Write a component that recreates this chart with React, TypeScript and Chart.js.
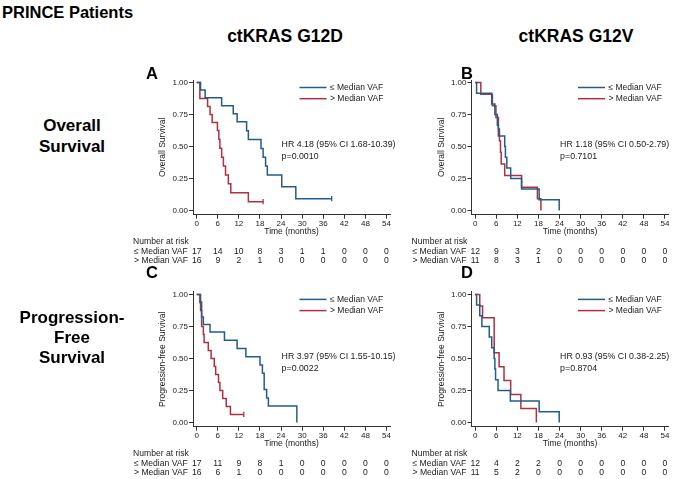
import React, { useEffect, useRef } from 'react';
import { Chart, registerables } from 'chart.js';

Chart.register(...registerables);

const FONT = "'Liberation Sans', Arial, Helvetica, sans-serif";
const BLUE = '#245b8d';
const RED = '#ae3141';
const INK = '#1a1a1a';
const AXIS = '#333333';

// ---------- shared labels / ticks ----------
const timeTicks = [0, 6, 12, 18, 24, 30, 36, 42, 48, 54];
const survivalTicks = [0, 0.25, 0.5, 0.75, 1];
const groupNames = ['≤ Median VAF', '> Median VAF'];

// ---------- Panel A: ctKRAS G12D, overall survival ----------
const osG12dLowTime = [0, 1.1, 2.4, 7.1, 10.4, 11.5, 14.2, 14.7, 18.3, 18.9, 19.6, 20.1, 24.2, 28.2, 38.4];
const osG12dLowSurv = [1, 0.941, 0.882, 0.819, 0.756, 0.693, 0.624, 0.554, 0.485, 0.416, 0.347, 0.277, 0.185, 0.092, 0.092];
const osG12dLowCensor = [38.4];
const osG12dHighTime = [0, 0.9, 3.1, 3.8, 4.4, 5.9, 6.3, 6.6, 7.1, 7.6, 8.2, 9.0, 9.7, 14.7, 18.9];
const osG12dHighSurv = [1, 0.875, 0.8125, 0.75, 0.6875, 0.625, 0.556, 0.486, 0.417, 0.347, 0.278, 0.208, 0.139, 0.069, 0.069];
const osG12dHighCensor = [18.9];
const osG12dRiskLow = [17, 14, 10, 8, 3, 1, 1, 0, 0, 0];
const osG12dRiskHigh = [16, 9, 2, 1, 0, 0, 0, 0, 0, 0];
const osG12dHr = 'HR 4.18 (95% CI 1.68-10.39)';
const osG12dP = 'p=0.0010';

// ---------- Panel B: ctKRAS G12V, overall survival ----------
const osG12vLowTime = [0, 0.4, 4.7, 5.6, 6.3, 6.6, 8.4, 8.6, 9.0, 10.1, 13.2, 18.2, 23.9];
const osG12vLowSurv = [1, 0.917, 0.833, 0.75, 0.667, 0.583, 0.5, 0.417, 0.333, 0.25, 0.167, 0.083, 0];
const osG12vLowCensor: number[] = [];
const osG12vHighTime = [0, 1.6, 4.9, 5.9, 6.6, 6.9, 7.2, 7.4, 8.4, 13.2, 17.7, 18.7];
const osG12vHighSurv = [1, 0.909, 0.818, 0.727, 0.636, 0.545, 0.455, 0.364, 0.273, 0.182, 0.091, 0];
const osG12vHighCensor: number[] = [];
const osG12vRiskLow = [12, 9, 3, 2, 0, 0, 0, 0, 0, 0];
const osG12vRiskHigh = [11, 8, 3, 1, 0, 0, 0, 0, 0, 0];
const osG12vHr = 'HR 1.18 (95% CI 0.50-2.79)';
const osG12vP = 'p=0.7101';

// ---------- Panel C: ctKRAS G12D, progression-free survival ----------
const pfsG12dLowTime = [0, 1.1, 1.4, 1.9, 3.8, 7.9, 11.5, 14.0, 18.0, 18.7, 19.2, 19.9, 20.4, 28.5];
const pfsG12dLowSurv = [1, 0.941, 0.824, 0.765, 0.706, 0.642, 0.578, 0.513, 0.449, 0.385, 0.257, 0.192, 0.128, 0];
const pfsG12dLowCensor: number[] = [];
const pfsG12dHighTime = [0, 0.9, 1.1, 1.4, 1.9, 2.1, 3.3, 4.1, 5.0, 5.4, 6.2, 6.6, 7.4, 8.4, 9.6, 13.4];
const pfsG12dHighSurv = [1, 0.9375, 0.875, 0.75, 0.6875, 0.625, 0.5625, 0.5, 0.4375, 0.375, 0.3125, 0.25, 0.1875, 0.125, 0.0625, 0.0625];
const pfsG12dHighCensor = [13.4];
const pfsG12dRiskLow = [17, 11, 9, 8, 1, 0, 0, 0, 0, 0];
const pfsG12dRiskHigh = [16, 6, 1, 0, 0, 0, 0, 0, 0, 0];
const pfsG12dHr = 'HR 3.97 (95% CI 1.55-10.15)';
const pfsG12dP = 'p=0.0022';

// ---------- Panel D: ctKRAS G12V, progression-free survival ----------
const pfsG12vLowTime = [0, 0.4, 1.3, 1.9, 4.0, 4.7, 5.4, 5.6, 5.8, 6.5, 10.0, 18.2, 23.9];
const pfsG12vLowSurv = [1, 0.917, 0.833, 0.75, 0.667, 0.583, 0.5, 0.417, 0.333, 0.25, 0.167, 0.083, 0];
const pfsG12vLowCensor: number[] = [];
const pfsG12vHighTime = [0, 1.3, 2.1, 5.4, 6.8, 8.2, 10.1, 13.0, 17.4];
const pfsG12vHighSurv = [1, 0.909, 0.818, 0.545, 0.436, 0.327, 0.218, 0.109, 0];
const pfsG12vHighCensor: number[] = [];
const pfsG12vRiskLow = [12, 4, 2, 2, 0, 0, 0, 0, 0, 0];
const pfsG12vRiskHigh = [11, 5, 2, 0, 0, 0, 0, 0, 0, 0];
const pfsG12vHr = 'HR 0.93 (95% CI 0.38-2.25)';
const pfsG12vP = 'p=0.8704';

// ---------- layout (positions only) ----------
type Geo = {
  left: number; top: number; w: number; h: number;
  cl: number; cr: number; ct: number; cb: number; yTitleX: number;
};

type Spec = {
  geo: Geo;
  yTitle: string;
  low: { time: number[]; surv: number[]; censor: number[] };
  high: { time: number[]; surv: number[]; censor: number[] };
  riskLow: number[];
  riskHigh: number[];
  hr: string;
  p: string;
};

const X_MIN = -1.05;
const X_MAX = 55;
const Y_MIN = -0.033;
const Y_MAX = 1.02;
const TITLE_SIZE = 8.5;
const TITLE_HALF = (TITLE_SIZE * 1.2) / 2;
const X_BOX_H = 17.3 + TITLE_HALF;

function survAt(time: number[], surv: number[], t: number) {
  let v = surv[0];
  for (let i = 0; i < time.length; i++) if (time[i] <= t) v = surv[i];
  return v;
}

function Panel({ spec }: { spec: Spec }) {
  const ref = useRef<HTMLCanvasElement | null>(null);
  const g = spec.geo;
  useEffect(() => {
    const canvas = ref.current;
    if (!canvas) return;
    const padLeft = g.yTitleX - g.left - TITLE_HALF;
    const yWidth = g.cl - g.left - padLeft;
    const padTop = g.ct - g.top;
    const padRight = g.left + g.w - g.cr;
    const padBottom = g.top + g.h - g.cb - X_BOX_H;

    const curveDs = (c: { time: number[]; surv: number[] }, color: string) => ({
      data: c.time.map((t, i) => ({ x: t, y: c.surv[i] })),
      borderColor: color,
      borderWidth: 1.5,
      stepped: 'before' as const,
      pointRadius: 0,
      fill: false,
      tension: 0,
    });
    const censorDs = (c: { time: number[]; surv: number[]; censor: number[] }, color: string) => ({
      data: c.censor.map((t) => ({ x: t, y: survAt(c.time, c.surv, t) })),
      showLine: false,
      pointStyle: 'line' as const,
      pointRadius: 2.6,
      pointRotation: 90,
      pointBorderColor: color,
      pointBorderWidth: 1.3,
      borderColor: color,
    });

    const overlay = {
      id: 'kmOverlay',
      afterDraw(chart: any) {
        const ctx = chart.ctx;
        const { left, top, bottom } = chart.chartArea;
        const xs = chart.scales.x;
        ctx.save();
        // legend
        const cols = [BLUE, RED];
        const ly = [7.5, 18.7];
        groupNames.forEach((name, i) => {
          const y = top + ly[i];
          ctx.strokeStyle = cols[i];
          ctx.lineWidth = 1.5;
          ctx.beginPath();
          ctx.moveTo(left + 106.5, y);
          ctx.lineTo(left + 133.5, y);
          ctx.stroke();
          ctx.fillStyle = INK;
          ctx.font = `8.5px ${FONT}`;
          ctx.textAlign = 'left';
          ctx.textBaseline = 'middle';
          ctx.fillText(name, left + 137, y);
        });
        // hazard ratio
        ctx.font = `8.8px ${FONT}`;
        ctx.fillStyle = INK;
        ctx.textAlign = 'left';
        ctx.textBaseline = 'middle';
        ctx.fillText(spec.hr, left + 88.6, top + 64.5);
        ctx.fillText(spec.p, left + 88.6, top + 76.5);
        // number at risk
        ctx.font = `8.6px ${FONT}`;
        ctx.fillText('Number at risk', left - 60, bottom + 27.3);
        const rows = [spec.riskLow, spec.riskHigh];
        const ry = [37, 46.3];
        rows.forEach((row, r) => {
          const y = bottom + ry[r];
          ctx.textAlign = 'left';
          ctx.fillText(groupNames[r], left - 59, y);
          ctx.textAlign = 'center';
          row.forEach((n, i) => {
            ctx.fillText(String(n), xs.getPixelForValue(timeTicks[i]), y);
          });
        });
        ctx.restore();
      },
    };

    const chart = new Chart(canvas, {
      type: 'line',
      data: {
        datasets: [
          curveDs(spec.low, BLUE),
          curveDs(spec.high, RED),
          censorDs(spec.low, BLUE),
          censorDs(spec.high, RED),
        ] as any,
      },
      options: {
        animation: false,
        responsive: false,
        devicePixelRatio: 1,
        events: [],
        layout: { padding: { left: padLeft, right: padRight, top: padTop, bottom: padBottom } },
        plugins: { legend: { display: false }, tooltip: { enabled: false } },
        scales: {
          x: {
            type: 'linear',
            min: X_MIN,
            max: X_MAX,
            afterBuildTicks: (s: any) => {
              s.ticks = timeTicks.map((v) => ({ value: v }));
            },
            afterFit: (s: any) => {
              s.height = X_BOX_H;
            },
            ticks: {
              autoSkip: false,
              maxRotation: 0,
              minRotation: 0,
              padding: 0,
              color: INK,
              font: { family: FONT, size: 8 },
              callback: (v: any) => String(v),
            },
            grid: { drawOnChartArea: false, drawTicks: true, tickLength: 4, color: AXIS, lineWidth: 1 },
            border: { display: true, color: AXIS, width: 1 },
            title: { display: true, text: 'Time (months)', color: INK, font: { family: FONT, size: TITLE_SIZE }, padding: 0 },
          },
          y: {
            type: 'linear',
            min: Y_MIN,
            max: Y_MAX,
            afterBuildTicks: (s: any) => {
              s.ticks = survivalTicks.map((v) => ({ value: v }));
            },
            afterFit: (s: any) => {
              s.width = yWidth;
            },
            ticks: {
              autoSkip: false,
              padding: 1,
              color: INK,
              font: { family: FONT, size: 8 },
              callback: (v: any) => Number(v).toFixed(2),
            },
            grid: { drawOnChartArea: false, drawTicks: true, tickLength: 4, color: AXIS, lineWidth: 1 },
            border: { display: true, color: AXIS, width: 1 },
            title: { display: true, text: spec.yTitle, color: INK, font: { family: FONT, size: TITLE_SIZE }, padding: 0 },
          },
        },
      } as any,
      plugins: [overlay],
    });
    return () => chart.destroy();
  }, []);
  return (
    <canvas
      ref={ref}
      width={g.w}
      height={g.h}
      style={{ position: 'absolute', left: g.left, top: g.top, width: g.w, height: g.h }}
    />
  );
}

const specs: Spec[] = [
  {
    geo: { left: 120, top: 70, w: 290, h: 205, cl: 193, cr: 390, ct: 80, cb: 214.7, yTitleX: 162.7 },
    yTitle: 'Overall Survival',
    low: { time: osG12dLowTime, surv: osG12dLowSurv, censor: osG12dLowCensor },
    high: { time: osG12dHighTime, surv: osG12dHighSurv, censor: osG12dHighCensor },
    riskLow: osG12dRiskLow, riskHigh: osG12dRiskHigh, hr: osG12dHr, p: osG12dP,
  },
  {
    geo: { left: 400, top: 70, w: 283, h: 205, cl: 471.5, cr: 668.5, ct: 80, cb: 214.7, yTitleX: 441.2 },
    yTitle: 'Overall Survival',
    low: { time: osG12vLowTime, surv: osG12vLowSurv, censor: osG12vLowCensor },
    high: { time: osG12vHighTime, surv: osG12vHighSurv, censor: osG12vHighCensor },
    riskLow: osG12vRiskLow, riskHigh: osG12vRiskHigh, hr: osG12vHr, p: osG12vP,
  },
  {
    geo: { left: 120, top: 282, w: 290, h: 197, cl: 193, cr: 390, ct: 291.9, cb: 426.7, yTitleX: 162.7 },
    yTitle: 'Progression-free Survival',
    low: { time: pfsG12dLowTime, surv: pfsG12dLowSurv, censor: pfsG12dLowCensor },
    high: { time: pfsG12dHighTime, surv: pfsG12dHighSurv, censor: pfsG12dHighCensor },
    riskLow: pfsG12dRiskLow, riskHigh: pfsG12dRiskHigh, hr: pfsG12dHr, p: pfsG12dP,
  },
  {
    geo: { left: 400, top: 282, w: 283, h: 197, cl: 471.5, cr: 668.5, ct: 291.9, cb: 426.7, yTitleX: 441.2 },
    yTitle: 'Progression-free Survival',
    low: { time: pfsG12vLowTime, surv: pfsG12vLowSurv, censor: pfsG12vLowCensor },
    high: { time: pfsG12vHighTime, surv: pfsG12vHighSurv, censor: pfsG12vHighCensor },
    riskLow: pfsG12vRiskLow, riskHigh: pfsG12vRiskHigh, hr: pfsG12vHr, p: pfsG12vP,
  },
];

function Label({ x, y, size, children, align = 'center', lh }: any) {
  return (
    <div
      style={{
        position: 'absolute',
        left: x,
        top: y,
        transform: align === 'center' ? 'translate(-50%, -50%)' : 'translate(0, -50%)',
        fontSize: size,
        fontWeight: 'bold',
        lineHeight: lh ? `${lh}px` : 1,
        whiteSpace: 'nowrap',
        textAlign: 'center',
        color: '#000',
        fontFamily: FONT,
      }}
    >
      {children}
    </div>
  );
}

export default function App() {
  return (
    <div style={{ position: 'absolute', left: 0, top: 0, width: 683, height: 479, background: '#fff', overflow: 'hidden' }}>
      {specs.map((s, i) => (
        <Panel key={i} spec={s} />
      ))}
      <Label x={2} y={12} size={16.5} align="left">PRINCE Patients</Label>
      <Label x={285} y={37} size={17.5}>ctKRAS G12D</Label>
      <Label x={576} y={37} size={17.5}>ctKRAS G12V</Label>
      <Label x={152} y={73} size={16.5}>A</Label>
      <Label x={467} y={73} size={16.5}>B</Label>
      <Label x={152} y={272} size={16.5}>C</Label>
      <Label x={467} y={272} size={16.5}>D</Label>
      <Label x={72} y={136} size={17} lh={20.5}>Overall<br />Survival</Label>
      <Label x={72} y={338} size={17} lh={20}>Progression-<br />Free<br />Survival</Label>
    </div>
  );
}
